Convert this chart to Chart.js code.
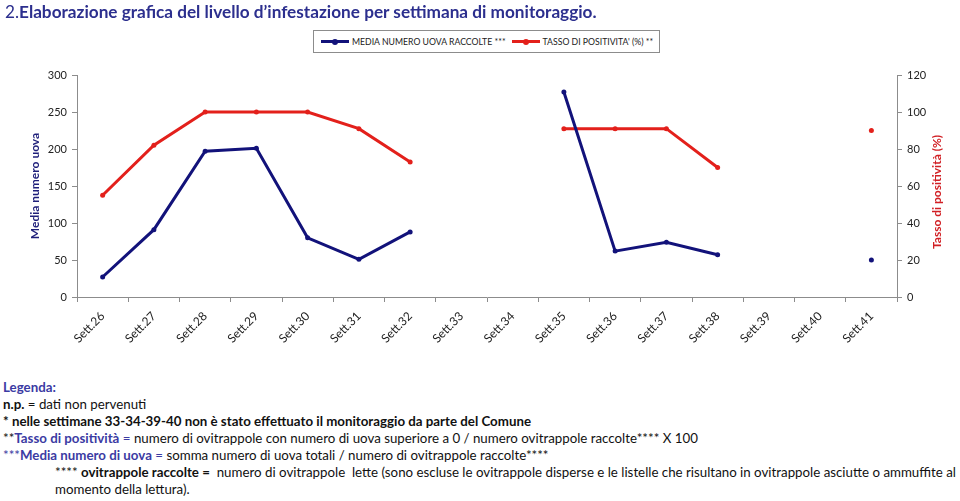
<!DOCTYPE html>
<html>
<head>
<meta charset="utf-8">
<script src="https://cdn.jsdelivr.net/npm/chart.js@4.4.0/dist/chart.umd.min.js"></script>
<style>
  html, body { margin: 0; padding: 0; background: #fff; }
  body { width: 960px; height: 501px; position: relative; overflow: hidden; font-family: Lato, sans-serif; }
  #title { position: absolute; left: 5px; top: 1px; font-size: 17.2px; color: #2c2f8e; white-space: nowrap; }
  #title b { font-weight: bold; }
  #chartBox { position: absolute; left: 0; top: 0; width: 960px; height: 370px; }
  #legend { position: absolute; left: 313px; top: 30px; width: 345px; height: 21px; border: 1px solid #8c8c8c;
            display: flex; align-items: center; font-size: 8.7px; color: #222; white-space: nowrap; background: #fff; }
  #legend .item { display: flex; align-items: center; margin-left: 7px; }
  #legend .sw { position: relative; width: 28px; height: 3px; margin-right: 3px; }
  #legend .sw i { position: absolute; left: 11px; top: -1.5px; width: 6px; height: 6px; border-radius: 3px; }
  #notes { position: absolute; left: 3px; top: 379px; font-size: 13.3px; line-height: 17px; color: #111; white-space: nowrap; }
  #notes .blue { color: #3b3ba3; }
  #notes .ind { padding-left: 52px; }
</style>
</head>
<body>
<div id="chartBox"><canvas id="myChart"></canvas></div>
<div id="title">2.<b>Elaborazione grafica del livello d’infestazione per settimana di monitoraggio.</b></div>
<div id="legend"></div>
<div id="notes">
  <div class="blue"><b>Legenda:</b></div>
  <div><b>n.p.</b> = dati non pervenuti</div>
  <div><b>* nelle settimane 33-34-39-40 non è stato effettuato il monitoraggio da parte del Comune</b></div>
  <div>**<b class="blue">Tasso di positività</b><span class="blue"> =</span> numero di ovitrappole con numero di uova superiore a 0 / numero ovitrappole raccolte**** X 100</div>
  <div class="blue">***<b>Media numero di uova</b> = <span style="color:#111">somma numero di uova totali / numero di ovitrappole raccolte****</span></div>
  <div class="ind">**** <b>ovitrappole raccolte =</b>&nbsp; numero di ovitrappole&nbsp; lette (sono escluse le ovitrappole disperse e le listelle che risultano in ovitrappole asciutte o ammuffite al</div>
  <div class="ind">momento della lettura).</div>
</div>
<script>
const weeks = ['Sett.26', 'Sett.27', 'Sett.28', 'Sett.29', 'Sett.30', 'Sett.31', 'Sett.32', 'Sett.33',
               'Sett.34', 'Sett.35', 'Sett.36', 'Sett.37', 'Sett.38', 'Sett.39', 'Sett.40', 'Sett.41'];
const mediaUova = [27, 91, 197, 201, 80, 51, 88, null, null, 277, 62, 74, 57, null, null, 50];
const tassoPositivita = [55, 82, 100, 100, 100, 91, 73, null, null, 91, 91, 91, 70, null, null, 90];
const leftTicks = [0, 50, 100, 150, 200, 250, 300];
const rightTicks = [0, 20, 40, 60, 80, 100, 120];

const blue = '#12127a';
const red = '#e3201b';
const axisGray = '#8c8c8c';
const tickFont = { family: 'Lato', size: 11 };

// right axis title reads bottom-to-top like in the original, so it is drawn here
const rightTitlePlugin = {
    id: 'rightTitle',
    afterDraw: function (chart) {
        const area = chart.chartArea;
        const c = chart.ctx;
        c.save();
        c.translate(937, (area.top + area.bottom) / 2 + 6);
        c.rotate(-Math.PI / 2);
        c.font = 'bold 12px Lato';
        c.fillStyle = '#d11f24';
        c.textAlign = 'center';
        c.textBaseline = 'middle';
        c.fillText('Tasso di positività (%)', 0, 0);
        c.restore();
    }
};

const ctx = document.getElementById('myChart');
const chart = new Chart(ctx, {
    type: 'line',
    data: {
        labels: weeks,
        datasets: [{
            label: 'MEDIA NUMERO UOVA RACCOLTE ***',
            data: mediaUova,
            yAxisID: 'y',
            borderColor: blue,
            backgroundColor: blue,
            borderWidth: 3,
            pointRadius: 2.5,
            pointBorderWidth: 0,
            spanGaps: false,
            tension: 0
        }, {
            label: "TASSO DI POSITIVITA' (%) **",
            data: tassoPositivita,
            yAxisID: 'y1',
            borderColor: red,
            backgroundColor: red,
            borderWidth: 3,
            pointRadius: 2.5,
            pointBorderWidth: 0,
            spanGaps: false,
            tension: 0
        }]
    },
    options: {
        responsive: true,
        maintainAspectRatio: false,
        animation: false,
        layout: { padding: { top: 75 } },
        plugins: {
            legend: { display: false },
            tooltip: { enabled: false }
        },
        scales: {
            x: {
                offset: true,
                afterFit: function (s) { s.height = 73; },
                grid: { offset: true, drawOnChartArea: false, drawTicks: true, tickLength: 5, color: axisGray },
                border: { color: axisGray },
                ticks: { minRotation: 45, maxRotation: 45, color: '#222', font: { family: 'Lato', size: 12 }, padding: 7 }
            },
            y: {
                position: 'left',
                min: 0,
                max: 300,
                afterFit: function (s) { s.width = 77; },
                afterBuildTicks: function (s) { s.ticks = leftTicks.map(v => ({ value: v })); },
                grid: { drawOnChartArea: false, tickLength: 5, color: axisGray },
                border: { color: axisGray },
                ticks: { color: '#222', font: tickFont, padding: 5 },
                title: {
                    display: true,
                    text: 'Media numero uova',
                    color: '#1f1f7a',
                    font: { family: 'Lato', size: 12, weight: 'bold' },
                    padding: { top: 28 }
                }
            },
            y1: {
                position: 'right',
                min: 0,
                max: 120,
                afterFit: function (s) { s.width = 63; },
                afterBuildTicks: function (s) { s.ticks = rightTicks.map(v => ({ value: v })); },
                grid: { drawOnChartArea: false, tickLength: 5, color: axisGray },
                border: { color: axisGray },
                ticks: { color: '#222', font: tickFont, padding: 5 }
            }
        }
    },
    plugins: [rightTitlePlugin]
});

// legend box built from the datasets
const legendEl = document.getElementById('legend');
chart.data.datasets.forEach(function (ds, i) {
    const item = document.createElement('div');
    item.className = 'item';
    if (i > 0) item.style.marginLeft = '6px';
    item.innerHTML = '<span class="sw" style="background:' + ds.borderColor + '"><i style="background:' + ds.borderColor + '"></i></span>' + ds.label;
    legendEl.appendChild(item);
});
</script>
</body>
</html>
